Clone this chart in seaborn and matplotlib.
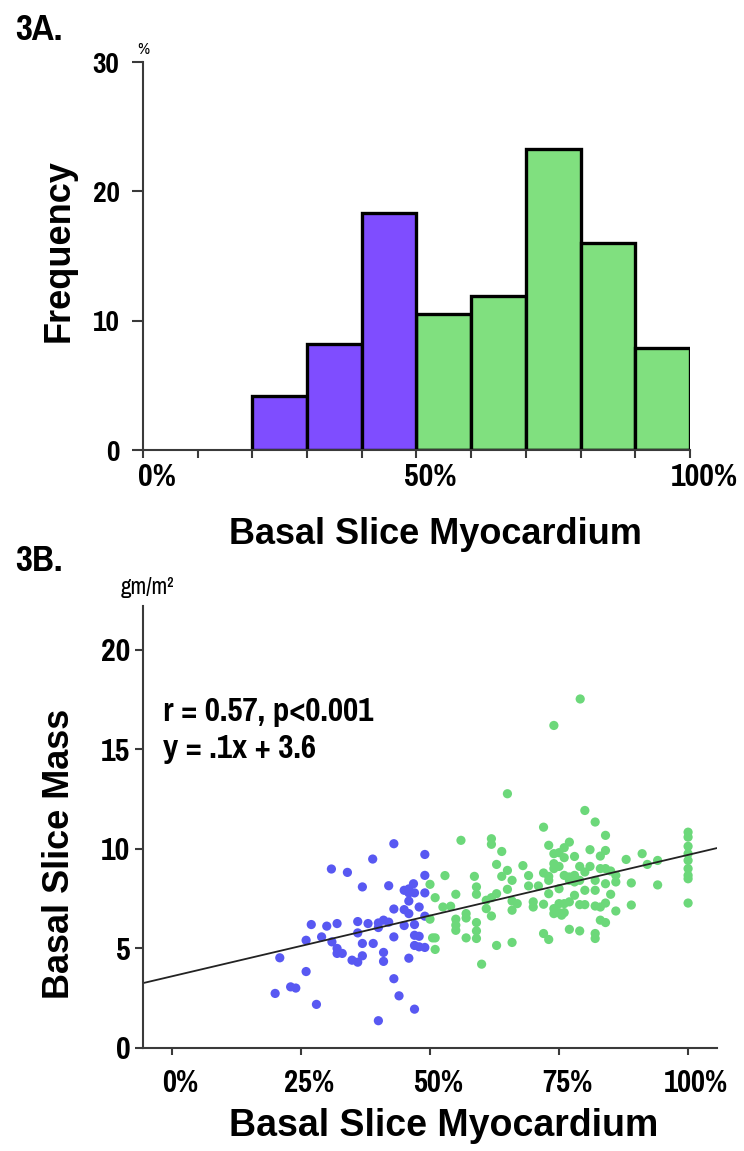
"""
Basal slice myocardium: frequency histogram (3A) and scatter vs basal slice mass (3B).
"""

import numpy as np
import pandas as pd
import seaborn as sns
import matplotlib.pyplot as plt
from matplotlib import font_manager, transforms

# %% data
# panel 3A: histogram of basal slice myocardium (%), frequency in %
bin_edges = [20, 30, 40, 50, 60, 70, 80, 90, 100]
bin_freq = [4.2, 8.2, 18.3, 10.5, 11.9, 23.3, 16.0, 7.9]

# panel 3B: basal slice myocardium (%) vs basal slice mass (gm/m2)
low_x = [43, 38.9, 49, 30.9, 34, 36.9, 42, 49, 45, 45.9, 46.8, 45.9, 47, 49,
         45.9, 43, 45, 45.9, 47.9, 49, 27, 30, 32, 36, 38, 40, 41, 42, 36, 40,
         45, 47, 26, 29, 31, 43, 47, 47.9, 36.9, 39, 32, 32, 33, 41, 36.9, 47,
         47.9, 49, 34.9, 36, 41, 45.9, 20.9, 26, 43, 23, 24, 20, 44, 28, 47, 40]
low_y = [10.26, 9.49, 9.72, 8.99, 8.82, 8.09, 8.15, 8.67, 7.92, 7.99, 8.25, 7.79,
         7.79, 7.79, 7.38, 6.98, 6.95, 6.75, 7.08, 6.62, 6.20, 6.12, 6.25, 6.35,
         6.25, 6.28, 6.42, 6.32, 5.78, 6.05, 6.15, 6.20, 5.41, 5.58, 5.33, 5.58,
         5.66, 5.61, 5.25, 5.25, 5.00, 4.75, 4.75, 4.80, 4.63, 5.15, 5.08, 5.05,
         4.41, 4.31, 4.35, 4.51, 4.53, 3.84, 3.48, 3.07, 3.01, 2.74, 2.62, 2.19,
         1.95, 1.37]

high_x = [79.1, 74.0, 65.0, 80.0, 82.0, 72.0, 84.0,
          100, 100, 100, 100, 100, 100, 100, 100, 100,
          56.0, 61.9, 61.9, 73.0, 77.0, 76.0, 74.0, 76.0, 75.0, 81.0, 84.0, 83.0,
          63.9, 91.1, 88.0, 78.0, 94.1, 92.1, 62.9, 68.0, 74.0, 75.0, 74.0,
          79.0, 81.0, 80.0, 83.0, 84.0, 85.0, 86.0, 65.0, 52.9, 58.6, 69.1,
          72.0, 73.0, 73.0, 76.0, 77.0, 78.0, 77.0, 78.0, 63.9, 65.9, 79.0,
          82.0, 84.0, 86.0, 89.0, 94.1, 50.0, 59.0, 69.1, 71.0, 65.0, 75.0,
          80.0, 82.0, 55.0, 59.0, 73.0, 62.9, 51.0, 78.0, 85.0, 61.9, 60.9,
          65.9, 66.9, 70.0, 70.0, 72.0, 75.0, 76.0, 77.0, 79.0, 80.0, 82.0,
          83.0, 84.0, 89.0, 52.5, 54.0, 50.0, 60.9, 65.9, 74.0, 75.0, 76.0,
          74.0, 75.5, 86.0, 57.0, 57.0, 61.9, 55.0, 55.0, 55.0, 59.0, 83.0,
          84.0, 59.0, 59.0, 57.0, 50.5, 51.0, 72.0, 73.0, 77.0, 79.0, 82.0,
          82.0, 62.9, 65.9, 51.0, 60.0]
high_y = [17.53, 16.2, 12.77, 11.93, 11.35, 11.09, 10.68,
          10.84, 10.59, 10.13, 9.76, 9.42, 9.01, 8.67, 8.50, 7.28,
          10.43, 10.51, 10.23, 10.18, 10.34, 10.06, 9.76, 9.56, 9.81, 9.96, 9.92,
          9.64, 9.87, 9.76, 9.47, 9.62, 9.42, 9.22, 9.22, 9.16, 9.26, 9.12, 9.01,
          9.12, 9.12, 8.84, 9.01, 9.01, 8.89, 8.67, 8.92, 8.66, 8.62, 8.66,
          8.79, 8.62, 8.42, 8.67, 8.59, 8.67, 8.42, 8.34, 8.62, 8.42, 8.42,
          8.42, 8.25, 8.34, 8.29, 8.19, 8.22, 8.09, 8.14, 8.14, 7.97, 8.00,
          7.92, 7.92, 7.72, 7.72, 7.75, 7.75, 7.55, 7.67, 7.72, 7.55, 7.42,
          7.38, 7.25, 7.34, 7.08, 7.22, 7.25, 7.25, 7.34, 7.20, 7.20, 7.13,
          7.08, 7.28, 7.18, 7.08, 7.12, 6.47, 7.00, 6.92, 7.00, 6.80, 6.80,
          6.75, 6.67, 6.88, 6.75, 6.53, 6.63, 6.47, 6.17, 5.91, 6.30, 6.42,
          6.30, 5.88, 5.50, 5.53, 5.53, 5.53, 5.75, 5.45, 5.96, 5.88, 5.75,
          5.50, 5.15, 5.30, 4.95, 4.21]

# regression reported on the figure
fit_slope = 0.061
fit_intercept = 3.6

# %% styling
sns.set_style("ticks")
# pick an Arial-Narrow-like family that has a real bold face
bold_families = {f.name for f in font_manager.fontManager.ttflist
                 if isinstance(f.weight, int) and f.weight >= 700}
narrow = next((f for f in ["Liberation Sans Narrow", "Nimbus Sans Narrow",
                           "Pragati Narrow", "Roboto Condensed", "PT Sans Narrow",
                           "Asap Condensed", "Barlow Condensed"]
               if f in bold_families), "Liberation Sans")
plt.rcParams["font.family"] = ["Liberation Sans", "DejaVu Sans"]
plt.rcParams["text.color"] = "black"
plt.rcParams["axes.labelcolor"] = "black"
plt.rcParams["xtick.color"] = "black"
plt.rcParams["ytick.color"] = "black"

spine_col = "#3a3a3a"
purple = "#7f4dff"
green_bar = "#80e07f"
blue_dot = "#5858f2"
green_dot = "#6cd87a"

fig = plt.figure(figsize=(7.44, 11.51), dpi=100)
ax1 = fig.add_axes([0.1922, 0.6090, 0.7352, 0.3371])
ax2 = fig.add_axes([0.1922, 0.0895, 0.7715, 0.3840])


def shift_xlabels(ax, dx_px):
    # tick labels in the original sit a little right of their ticks
    offset = transforms.ScaledTranslation(dx_px / 100, 0, fig.dpi_scale_trans)
    for lab in ax.get_xticklabels():
        lab.set_transform(lab.get_transform() + offset)


# %% 3A histogram
mids = (np.array(bin_edges[:-1]) + np.array(bin_edges[1:])) / 2
hist_df = pd.DataFrame({
    "Myocardium": mids,
    "Frequency": bin_freq,
    "group": ["low" if m < 50 else "high" for m in mids],
})
sns.histplot(
    data=hist_df, x="Myocardium", weights="Frequency", bins=bin_edges,
    hue="group", palette={"low": purple, "high": green_bar},
    alpha=1, edgecolor="black", linewidth=2.4, legend=False, ax=ax1,
)
ax1.set_xlim(0, 100)
ax1.set_ylim(0, 30)
ax1.set_xticks(range(0, 101, 10))
ax1.set_xticklabels(["0%" if t == 0 else "50%" if t == 50 else "100%" if t == 100 else ""
                     for t in range(0, 101, 10)])
ax1.set_yticks([0, 10, 20, 30])
ax1.tick_params(axis="x", length=6, width=1.5, color=spine_col, pad=3,
                labelsize=25)
ax1.tick_params(axis="y", length=8, width=1.5, color=spine_col, pad=9,
                labelsize=23)
for lab in ax1.get_xticklabels() + ax1.get_yticklabels():
    lab.set_fontfamily(narrow)
    lab.set_fontweight("bold")
shift_xlabels(ax1, 14)
ax1.set_xlabel("Basal Slice Myocardium", fontsize=26, fontweight="bold")
ax1.set_ylabel("Frequency", fontsize=26, fontweight="bold")
ax1.xaxis.set_label_coords(0.534, -0.172)
ax1.yaxis.set_label_coords(-0.121, 0.515)
ax1.text(0, 31.0, "%", ha="center", va="center", fontsize=13, family=narrow)

# %% 3B scatter
scatter_df = pd.DataFrame({
    "Myocardium": low_x + high_x,
    "Mass": low_y + high_y,
    "group": ["low"] * len(low_x) + ["high"] * len(high_x),
})
sns.scatterplot(
    data=scatter_df, x="Myocardium", y="Mass", hue="group",
    palette={"low": blue_dot, "high": green_dot}, s=44, linewidth=0,
    legend=False, ax=ax2,
)
ax2.axline((0, fit_intercept), slope=fit_slope, color="#222222", lw=1.3)
ax2.set_xlim(-5.6, 105.6)
ax2.set_ylim(0, 22.2)
ax2.set_xticks([0, 25, 50, 75, 100])
ax2.set_xticklabels(["0%", "25%", "50%", "75%", "100%"])
ax2.set_yticks([0, 5, 10, 15, 20])
ax2.tick_params(axis="x", length=5, width=1.5, color=spine_col, pad=10,
                labelsize=24)
ax2.tick_params(axis="y", length=6, width=1.5, color=spine_col, pad=3,
                labelsize=25)
for lab in ax2.get_xticklabels() + ax2.get_yticklabels():
    lab.set_fontfamily(narrow)
    lab.set_fontweight("bold")
shift_xlabels(ax2, 8)
ax2.set_xlabel("Basal Slice Myocardium", fontsize=27, fontweight="bold")
ax2.set_ylabel("Basal Slice Mass", fontsize=26, fontweight="bold")
ax2.xaxis.set_label_coords(0.524, -0.136)
ax2.yaxis.set_label_coords(-0.115, 0.439)
ax2.text(-1.7, 16.9, "r = 0.57, p<0.001", ha="left", va="center",
         fontsize=26, fontweight="bold", family=narrow)
ax2.text(-1.7, 15.0, "y = .1x + 3.6", ha="left", va="center",
         fontsize=26, fontweight="bold", family=narrow)

for ax in (ax1, ax2):
    sns.despine(ax=ax)
    for side in ("left", "bottom"):
        ax.spines[side].set_color(spine_col)
        ax.spines[side].set_linewidth(1.5)

fig.text(0.1976, 0.490, "gm/m²", ha="center", va="center", fontsize=18,
         family=narrow)
fig.text(0.02, 0.974, "3A.", ha="left", va="center", fontsize=29,
         fontweight="bold", family=narrow)
fig.text(0.02, 0.5126, "3B.", ha="left", va="center", fontsize=29,
         fontweight="bold", family=narrow)

fig.savefig("out.png", dpi=100)
